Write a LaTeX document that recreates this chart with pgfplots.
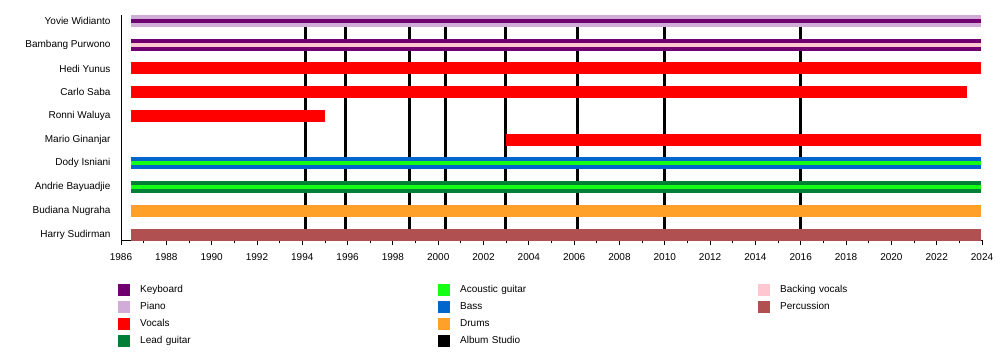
\documentclass[border=0pt]{standalone}
\usepackage{pgfplots}
\pgfplotsset{compat=1.18}
\usepackage{fontspec}
\setmainfont{Liberation Sans}
\definecolor{kbd}{RGB}{112,0,112}
\definecolor{piano}{RGB}{210,172,216}
\definecolor{vocals}{RGB}{255,0,0}
\definecolor{leadg}{RGB}{0,128,55}
\definecolor{acoustic}{RGB}{20,255,20}
\definecolor{bass}{RGB}{0,102,204}
\definecolor{drums}{RGB}{255,160,40}
\definecolor{backing}{RGB}{255,200,208}
\definecolor{perc}{RGB}{176,80,80}
\begin{document}
\fontsize{10}{12}\selectfont
\begin{tikzpicture}[x=1pt,y=1pt]
\path[use as bounding box] (0,0) rectangle (1000,360);
\begin{axis}[
  at={(121pt,120pt)}, anchor=south west,
  scale only axis, width=861pt, height=225pt,
  xmin=1986, xmax=2024, ymin=-0.232, ymax=9.253,
  axis x line*=bottom, axis y line*=left,
  axis line style={-, line width=1pt, black},
  xtick={1986,1988,...,2024}, minor xtick={1987,1989,...,2023},
  x tick label style={/pgf/number format/1000 sep={}},
  tick align=outside, major tick length=5pt, minor tick length=3pt,
  xtick style={black, line width=0.8pt},
  ytick={0,...,9},
  yticklabels={Harry Sudirman,Budiana Nugraha,Andrie Bayuadjie,Dody Isniani,Mario Ginanjar,Ronni Waluya,Carlo Saba,Hedi Yunus,Bambang Purwono,Yovie Widianto},
  ytick style={draw=none},
  /pgf/number format/assume math mode=true,
  tick label style={font=\fontsize{10}{12}\selectfont},
  xticklabel style={yshift=-5pt},
  yticklabel style={xshift=-2pt},
  legend columns=3, legend cell align=left,
  legend style={at={(axis description cs:-0.0035,-0.1933)}, anchor=north west,
    draw=none, fill=none, inner sep=0pt, column sep=0pt, row sep=5pt,
    nodes={text width=298pt, inner xsep=0pt, inner ysep=0pt, font=\fontsize{10}{12}\selectfont}},
  legend image code/.code={\path[draw=none,fill=none] (0pt,0pt) -- (22pt,0pt); \fill[draw=none] (0pt,-6pt) rectangle (12pt,6pt);},
]
% legend entries (row-wise order for 3 columns)
\addlegendimage{color=kbd}\addlegendentry{Keyboard}
\addlegendimage{color=acoustic}\addlegendentry{Acoustic guitar}
\addlegendimage{color=backing}\addlegendentry{Backing vocals}
\addlegendimage{color=piano}\addlegendentry{Piano}
\addlegendimage{color=bass}\addlegendentry{Bass}
\addlegendimage{color=perc}\addlegendentry{Percussion}
\addlegendimage{color=vocals}\addlegendentry{Vocals}
\addlegendimage{color=drums}\addlegendentry{Drums}
\addlegendimage{empty legend}\addlegendentry{}
\addlegendimage{color=leadg}\addlegendentry{Lead guitar}
\addlegendimage{color=black}\addlegendentry{Album Studio}

% album studio lines
\addplot[black, line width=3pt, forget plot] coordinates {(1994.13,-0.3) (1994.13,9.3)};
\addplot[black, line width=3pt, forget plot] coordinates {(1995.93,-0.3) (1995.93,9.3)};
\addplot[black, line width=3pt, forget plot] coordinates {(1998.72,-0.3) (1998.72,9.3)};
\addplot[black, line width=3pt, forget plot] coordinates {(2000.31,-0.3) (2000.31,9.3)};
\addplot[black, line width=3pt, forget plot] coordinates {(2002.96,-0.3) (2002.96,9.3)};
\addplot[black, line width=3pt, forget plot] coordinates {(2006.13,-0.3) (2006.13,9.3)};
\addplot[black, line width=3pt, forget plot] coordinates {(2009.98,-0.3) (2009.98,9.3)};
\addplot[black, line width=3pt, forget plot] coordinates {(2016.00,-0.3) (2016.00,9.3)};

% Yovie Widianto: piano + keyboard stripe
\addplot[piano, line width=12pt, forget plot] coordinates {(1986.42,9) (2023.97,9)};
\addplot[kbd, line width=4pt, forget plot] coordinates {(1986.42,9) (2023.97,9)};
% Bambang Purwono: keyboard + backing vocals stripe
\addplot[kbd, line width=12pt, forget plot] coordinates {(1986.42,8) (2023.97,8)};
\addplot[backing, line width=4pt, forget plot] coordinates {(1986.42,8) (2023.97,8)};
% Hedi Yunus
\addplot[vocals, line width=12pt, forget plot] coordinates {(1986.42,7) (2023.97,7)};
% Carlo Saba
\addplot[vocals, line width=12pt, forget plot] coordinates {(1986.42,6) (2023.33,6)};
% Ronni Waluya
\addplot[vocals, line width=12pt, forget plot] coordinates {(1986.42,5) (1995.0,5)};
% Mario Ginanjar
\addplot[vocals, line width=12pt, forget plot] coordinates {(2003.0,4) (2023.97,4)};
% Dody Isniani: bass + acoustic stripe
\addplot[bass, line width=12pt, forget plot] coordinates {(1986.42,3) (2023.97,3)};
\addplot[acoustic, line width=4pt, forget plot] coordinates {(1986.42,3) (2023.97,3)};
% Andrie Bayuadjie: lead guitar + acoustic stripe
\addplot[leadg, line width=12pt, forget plot] coordinates {(1986.42,2) (2023.97,2)};
\addplot[acoustic, line width=4pt, forget plot] coordinates {(1986.42,2) (2023.97,2)};
% Budiana Nugraha
\addplot[drums, line width=12pt, forget plot] coordinates {(1986.42,1) (2023.97,1)};
% Harry Sudirman
\addplot[perc, line width=12pt, forget plot] coordinates {(1986.42,0) (2023.97,0)};
\end{axis}
\end{tikzpicture}
\end{document}
